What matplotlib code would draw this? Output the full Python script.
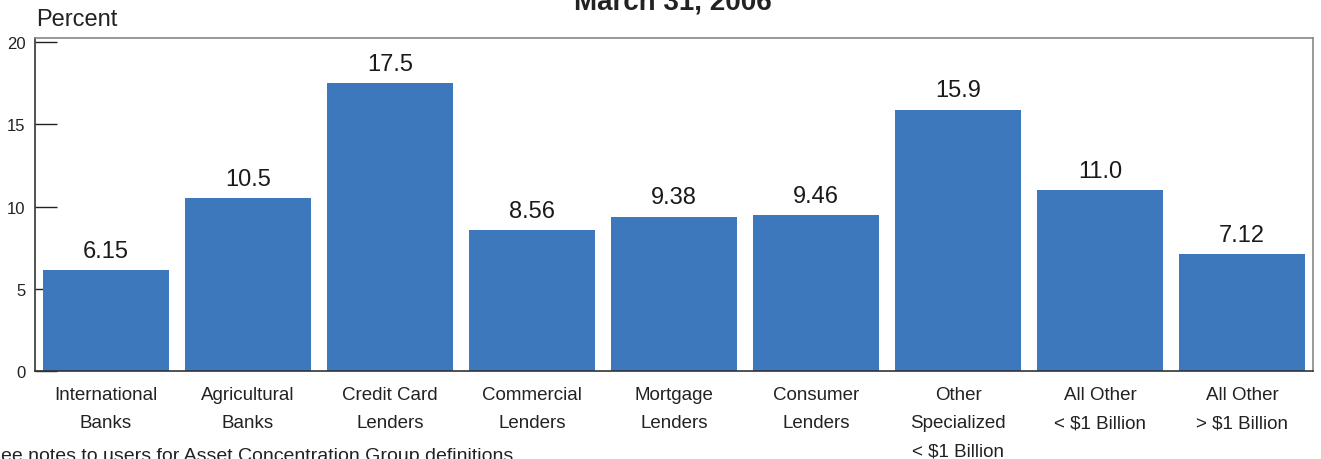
import matplotlib
matplotlib.use("Agg")
import matplotlib.pyplot as plt

categories = ["International\nBanks", "Agricultural\nBanks", "Credit Card\nLenders",
              "Commercial\nLenders", "Mortgage\nLenders", "Consumer\nLenders",
              "Other\nSpecialized\n< $1 Billion", "All Other\n< $1 Billion",
              "All Other\n> $1 Billion"]
values = [6.15, 10.5, 17.5, 8.56, 9.38, 9.46, 15.9, 11.0, 7.12]
labels = ["6.15", "10.5", "17.5", "8.56", "9.38", "9.46", "15.9", "11.0", "7.12"]
yticks = [0, 5, 10, 15, 20]

plt.rcParams['font.family'] = ['Liberation Sans', 'DejaVu Sans']

fig = plt.figure(figsize=(13.21, 4.6), dpi=100)
ax = fig.add_axes([35/1321, 1-372/460, (1313-35)/1321, (372-39)/460])

x = list(range(len(values)))
bars = ax.bar(x, values, width=0.89, color='#3d78bd', zorder=2)

for xi, v, lab in zip(x, values, labels):
    ax.annotate(lab, (xi, v), xytext=(0, 6), textcoords='offset points',
                ha='center', va='bottom', fontsize=17, color='#1a1a1a')

ax.set_xlim(-0.5, 8.5)
ax.set_ylim(0, 20.25)
ax.set_yticks(yticks)
ax.set_yticklabels([str(t) for t in yticks], fontsize=12, color='#222222')
ax.tick_params(axis='y', direction='in', length=16, width=1, color='#222222', pad=7)
ax.set_xticks(x)
ax.set_xticklabels(categories, fontsize=13.5, color='#222222', linespacing=1.85, va='top')
ax.tick_params(axis='x', length=0, pad=11)

ax.spines['top'].set_color('#888888')
ax.spines['right'].set_color('#888888')
ax.spines['left'].set_color('#333333')
ax.spines['bottom'].set_color('#333333')
for s in ax.spines.values():
    s.set_linewidth(1.2)

fig.text(36/1321, 1-20/460, "Percent", fontsize=17, color='#222222', va='center', ha='left')
fig.text(673/1321, 1-10/460, "March 31, 2006", fontsize=20, fontweight='bold',
         color='#222222', ha='center', va='baseline')
fig.text(-12/1321, 1-457/460, "See notes to users for Asset Concentration Group definitions.",
         fontsize=14, color='#222222', ha='left', va='center')

fig.savefig("out.png", dpi=100)
